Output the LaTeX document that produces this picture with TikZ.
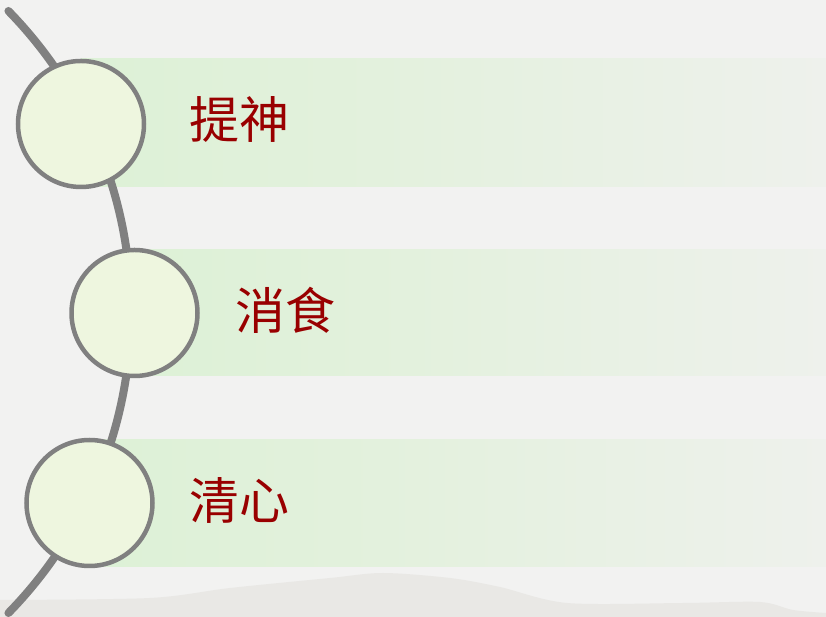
\documentclass[tikz,border=0pt]{standalone}
\usepackage{fontspec}
\newfontfamily\cjk{Noto Sans CJK SC}
\definecolor{bg}{HTML}{F2F2F1}
\definecolor{mount}{HTML}{E9E8E5}
\definecolor{bandL}{HTML}{D5F0CE}
\definecolor{bandM}{HTML}{E3F1DD}
\definecolor{bandR}{HTML}{EEF1EC}
\definecolor{ringgray}{HTML}{808080}
\definecolor{discfill}{HTML}{EEF6DF}
\definecolor{txtred}{HTML}{990000}
\pgfdeclarehorizontalshading{bandshade}{100bp}{color(0bp)=(bandL); color(45bp)=(bandM); color(75bp)=(bandR); color(100bp)=(bandR)}
\tikzset{
  disc/.style={circle, draw=ringgray, line width=4.5pt, fill=discfill, minimum size=126pt, inner sep=0pt},
  label/.style={font=\cjk\fontsize{50}{60}\selectfont, text=txtred, inner sep=0pt},
  band/.style={shading=bandshade},
  spine/.style={draw=ringgray, line width=8pt, line cap=round}
}
\begin{document}
\begin{tikzpicture}[x=1pt,y=1pt]
\fill[bg] (0,0) rectangle (826,617);
\useasboundingbox (0,0) rectangle (826,617);
% distant mountains
\fill[mount] plot[smooth] coordinates {(0,17) (150,19) (230,29) (330,39) (383,44) (450,39) (500,30) (567,14) (683,14) (760,15) (793,7) (826,4)} -- (826,0) -- (0,0) -- cycle;
% bands
\shade[band] (81,430) rectangle (826,558);
\shade[band] (134.5,241) rectangle (826,367);
\shade[band] (89.5,50) rectangle (826,177);
% spine arc
\draw[spine] (-300,305) ++(44.3:431) arc[start angle=44.3, end angle=-44.3, radius=431];
% discs
\node[disc] (c1) at (81,493) {};
\node[disc] (c2) at (134.5,304) {};
\node[disc] (c3) at (89.5,114) {};
% labels
\node[label] (t1) at (239,497) {提神};
\node[label] (t2) at (285,307) {消食};
\node[label] (t3) at (239,116.5) {清心};
\end{tikzpicture}
\end{document}
